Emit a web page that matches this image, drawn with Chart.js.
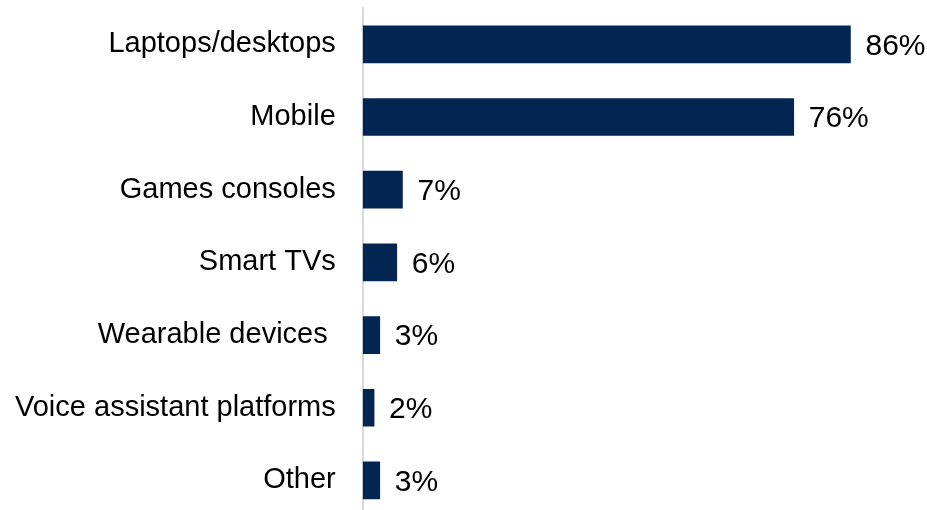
<!DOCTYPE html>
<html>
<head>
<meta charset="utf-8">
<script src="https://cdn.jsdelivr.net/npm/chart.js@4.4.1/dist/chart.umd.min.js"></script>
<style>
  html, body { margin: 0; padding: 0; background: #fff; overflow: hidden; }
  #wrap { position: relative; width: 927px; height: 524px; }
</style>
</head>
<body>
<div id="wrap"><canvas id="devices-chart"></canvas></div>
<script>
// Devices used, share of respondents (%)
const categories = [
  'Laptops/desktops',
  'Mobile',
  'Games consoles',
  'Smart TVs',
  'Wearable devices ',
  'Voice assistant platforms',
  'Other'
];
const shares = [86, 76, 7, 6, 3, 2, 3];

const FONT = '"Liberation Sans", Arial, sans-serif';

// Print the percentage just past the end of each bar
const valueLabels = {
  id: 'valueLabels',
  afterDatasetsDraw(chart) {
    const ctx = chart.ctx;
    const meta = chart.getDatasetMeta(0);
    ctx.save();
    ctx.font = '30px ' + FONT;
    ctx.fillStyle = '#000';
    ctx.textAlign = 'left';
    ctx.textBaseline = 'middle';
    meta.data.forEach(function(bar, i) {
      ctx.fillText(shares[i] + '%', bar.x + 15, bar.y + 2);
    });
    ctx.restore();
  }
};

const ctx = document.getElementById('devices-chart').getContext('2d');
new Chart(ctx, {
  type: 'bar',
  data: {
    labels: categories,
    datasets: [{
      data: shares,
      backgroundColor: '#022552',
      borderWidth: 0,
      barThickness: 37
    }]
  },
  options: {
    indexAxis: 'y',
    responsive: true,
    maintainAspectRatio: false,
    animation: false,
    layout: {
      padding: { top: 8, left: 15, right: 0, bottom: 0 }
    },
    plugins: {
      legend: { display: false },
      tooltip: { enabled: false }
    },
    scales: {
      x: {
        display: false,
        min: 0,
        max: 99.5
      },
      y: {
        // tick marks are hidden; their length just spaces the labels off the axis
        grid: { display: false, drawTicks: true, tickLength: 27 },
        border: { display: true, color: '#d9d9d9', width: 2 },
        ticks: {
          color: '#000',
          padding: 0,
          font: { family: FONT, size: 29, lineHeight: 0.5 }
        }
      }
    }
  },
  plugins: [valueLabels]
});
</script>
</body>
</html>
